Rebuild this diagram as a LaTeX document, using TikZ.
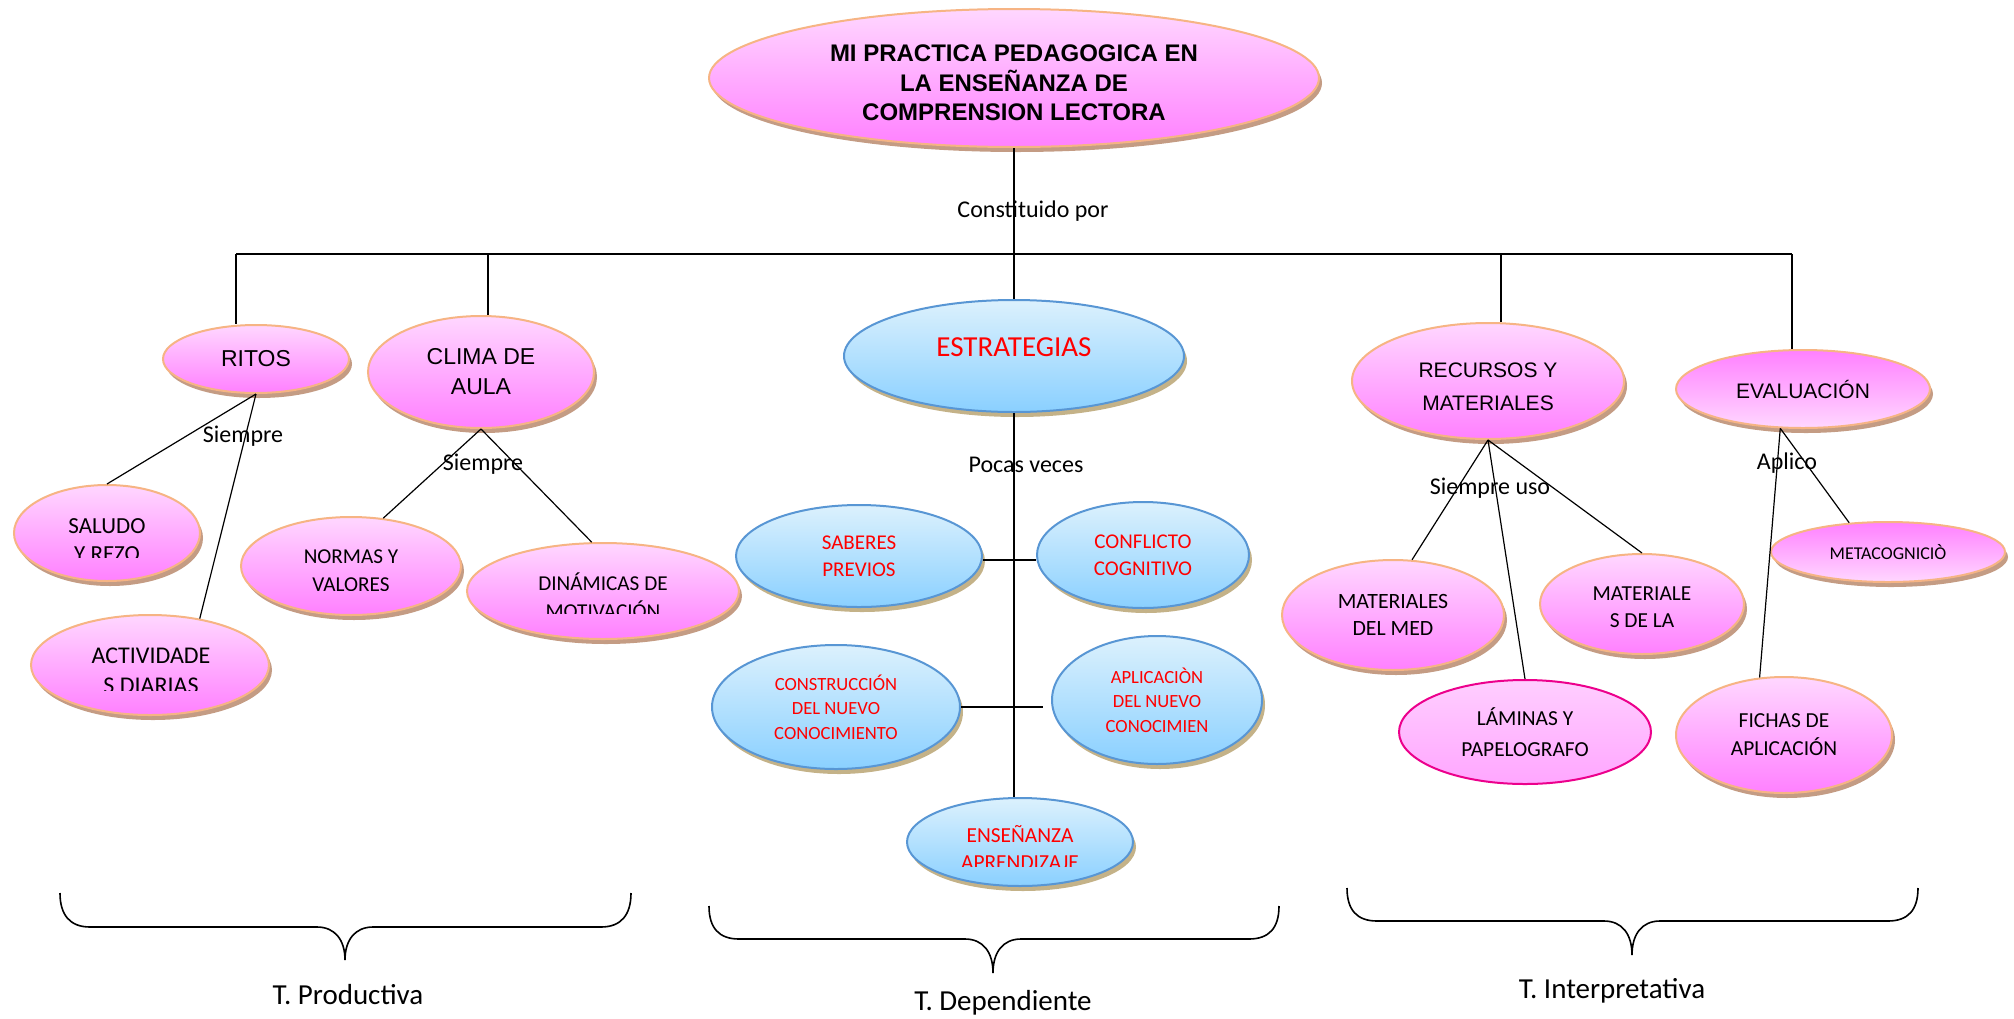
\documentclass[tikz,border=0pt]{standalone}
\usepackage{fontspec}
\setmainfont{Carlito}
\newfontfamily\arialfont{Liberation Sans}
\usetikzlibrary{shapes.geometric, shadows}
\definecolor{pinktop}{RGB}{255,215,255}
\definecolor{pinkbot}{RGB}{255,128,255}
\definecolor{peach}{RGB}{246,180,132}
\definecolor{pinkshade}{RGB}{196,156,132}
\definecolor{bluetop}{RGB}{220,241,253}
\definecolor{bluebot}{RGB}{138,208,255}
\definecolor{bluerim}{RGB}{88,150,212}
\definecolor{blueshade}{RGB}{196,178,136}
\definecolor{lamtop}{RGB}{255,206,255}
\definecolor{lambot}{RGB}{255,166,255}

\begin{document}
\begin{tikzpicture}[x=0.5pt, y=-0.5pt]
\tikzset{
  pinkball/.style={ellipse, draw=peach, line width=1pt, top color=pinktop, bottom color=pinkbot,
    inner sep=0pt, align=center,
    drop shadow={shadow xshift=1.5pt, shadow yshift=-2.5pt, fill=pinkshade, opacity=1}},
  pinkflip/.style={pinkball, top color=pinkbot, bottom color=pinktop},
  blueball/.style={ellipse, draw=bluerim, line width=1pt, top color=bluetop, bottom color=bluebot,
    inner sep=0pt, align=center, text=red,
    drop shadow={shadow xshift=1.5pt, shadow yshift=-2.5pt, fill=blueshade, opacity=1}},
  link/.style={line width=0.6pt},
  tag/.style={font=\fontsize{12}{14}\selectfont},
  bracepen/.style={line width=0.8pt},
  bracetext/.style={font=\fontsize{14.5}{17}\selectfont}
}
\useasboundingbox (0,0) rectangle (2014,1018);

% top of the map
\node[pinkball, minimum width=305pt, minimum height=69pt,
  font=\arialfont\bfseries\fontsize{12}{14.75}\selectfont]
  (title) at (1014,78) {\rule{0pt}{13.6pt}MI PRACTICA PEDAGOGICA EN\\LA ENSEÑANZA DE\\COMPRENSION LECTORA};

\coordinate (b1) at (236,254);
\coordinate (b2) at (488,254);
\coordinate (b4) at (1501,254);
\coordinate (b5) at (1792,254);

\node[pinkball, minimum width=93pt, minimum height=34pt, font=\arialfont\fontsize{11.5}{14}\selectfont] (ritos) at (256,359) {RITOS};
\node[pinkball, minimum width=113pt, minimum height=56pt, font=\arialfont\fontsize{11.5}{15}\selectfont] (clima) at (481,372) {CLIMA DE\\AULA};
\node[blueball, minimum width=170pt, minimum height=56pt, font=\fontsize{14.5}{17}\selectfont, text depth=9pt] (estr) at (1014,356) {ESTRATEGIAS};
\node[pinkball, minimum width=136pt, minimum height=58pt, font=\arialfont\fontsize{10.5}{16.5}\selectfont] (recursos) at (1488,381) {\rule{0pt}{13.5pt}RECURSOS Y\\MATERIALES};
\node[pinkflip, minimum width=127pt, minimum height=39pt, font=\arialfont\fontsize{10.5}{13}\selectfont] (eval) at (1803,389) {EVALUACIÓN};

% ritos y clima de aula
\node[pinkball, minimum width=93pt, minimum height=48pt] (saludo) at (107,533) {};
\node[pinkball, minimum width=119pt, minimum height=50pt] (activ) at (150,665) {};
\node[pinkball, minimum width=110pt, minimum height=49pt] (normas) at (351,566) {};
\node[pinkball, minimum width=136pt, minimum height=48pt] (dinam) at (603,591) {};

\begin{scope}
\clip (0,480) rectangle (220,557);
\node[font=\fontsize{11.5}{14}\selectfont, align=center] (saludo-t) at (107,540) {SALUDO\\Y REZO};
\end{scope}
\begin{scope}
\clip (20,610) rectangle (280,690);
\node[font=\fontsize{12}{14.75}\selectfont, align=center] (activ-t) at (151,671) {ACTIVIDADE\\S DIARIAS};
\end{scope}
\begin{scope}
\clip (230,510) rectangle (470,590);
\node[font=\fontsize{10.6}{14}\selectfont, align=center] (normas-t) at (351,571) {NORMAS Y\\VALORES};
\end{scope}
\begin{scope}
\clip (460,540) rectangle (750,613);
\node[font=\fontsize{10.6}{14}\selectfont, align=center] (dinam-t) at (603,596) {DINÁMICAS DE\\MOTIVACIÓN};
\end{scope}

% estrategias
\node[blueball, minimum width=123pt, minimum height=51pt, font=\fontsize{10.5}{13.5}\selectfont] (saberes) at (859,556) {SABERES\\PREVIOS};
\node[blueball, minimum width=106pt, minimum height=53pt, font=\fontsize{10.5}{13.5}\selectfont] (conflicto) at (1143,555) {CONFLICTO\\COGNITIVO};
\node[blueball, minimum width=124pt, minimum height=62pt, font=\fontsize{9.3}{12.2}\selectfont] (constr) at (836,707) {CONSTRUCCIÓN\\DEL NUEVO\\CONOCIMIENTO};
\node[blueball, minimum width=105pt, minimum height=64pt, font=\fontsize{9.3}{12.2}\selectfont] (aplic) at (1157,700) {APLICACIÒN\\DEL NUEVO\\CONOCIMIEN};
\node[blueball, minimum width=113pt, minimum height=44pt] (ens) at (1020,842) {};
\begin{scope}
\clip (900,795) rectangle (1140,866);
\node[font=\fontsize{10.7}{13.5}\selectfont, align=center, text=red] (ens-t) at (1020,848) {ENSEÑANZA\\APRENDIZAJE};
\end{scope}

% recursos y evaluacion
\node[pinkball, minimum width=111pt, minimum height=55pt, font=\fontsize{10.9}{13.5}\selectfont] (matmed) at (1393,615) {MATERIALES\\DEL MED};
\node[pinkball, minimum width=102pt, minimum height=50pt, font=\fontsize{10.7}{13.7}\selectfont] (matla) at (1642,604) {\rule{0pt}{9.9pt}MATERIALE\\S DE LA};
\node[ellipse, draw=magenta, line width=1pt, top color=lamtop, bottom color=lambot, inner sep=0pt, align=center,
  minimum width=126pt, minimum height=52pt, font=\fontsize{10.7}{15.6}\selectfont] (laminas) at (1525,732) {LÁMINAS Y\\PAPELOGRAFO};
\node[pinkflip, minimum width=117pt, minimum height=30pt, font=\fontsize{9}{11}\selectfont] (meta) at (1888,552) {METACOGNICIÒ};
\node[pinkball, minimum width=108pt, minimum height=58pt, font=\fontsize{10.7}{14}\selectfont] (fichas) at (1784,735) {FICHAS DE\\APLICACIÓN};

% link words
\node[tag] (constituido) at (1033,211) {Constituido por};
\node[tag] (siempre1) at (243,436) {Siempre};
\node[tag] (siempre2) at (483,464) {Siempre};
\node[tag] (pocas) at (1026,465) {Pocas veces};
\node[tag] (siempreuso) at (1490,488) {Siempre uso};
\node[tag] (aplico) at (1787,463) {Aplico};

% lines
\draw[link] (title.south) -- (estr.north);
\draw[link] (b1) -- (b5);
\draw[link] (b1) -- (b1 |- ritos.north);
\draw[link] (b2) -- (b2 |- clima.north);
\draw[link] (b4) -- (b4 |- recursos.north);
\draw[link] (b5) -- (b5 |- eval.north);

\draw[link] (ritos.south) -- (saludo.north);
\draw[link] (ritos.south) -- (activ.43);
\draw[link] (clima.south) -- (normas.56);
\draw[link] (clima.south) -- (dinam.103);

\draw[link] (estr.south) -- (estr.south |- ens.north);
\draw[link] ([yshift=-2pt]saberes.east) -- ([yshift=-2pt]saberes.east -| conflicto.west);
\draw[link] (constr.east) -- ([xshift=-4pt]aplic.west |- constr.east);

\draw[link] (recursos.south) -- (matmed.71);
\draw[link] (recursos.south) -- (laminas.north);
\draw[link] (recursos.south) -- (matla.north);
\draw[link] (eval.240) -- (meta.143);
\draw[link] (eval.240) -- (fichas.113);

% braces
\draw[bracepen] (60,893) .. controls (60,915) and (70,927) .. (90,927) -- (317,927) .. controls (335,927) and (345,940) .. (345,960)
  .. controls (345,940) and (355,927) .. (373,927) -- (601,927) .. controls (621,927) and (631,915) .. (631,893);
\draw[bracepen] (709,906) .. controls (709,928) and (719,939) .. (739,939) -- (965,939) .. controls (983,939) and (993,952) .. (993,973)
  .. controls (993,952) and (1003,939) .. (1021,939) -- (1249,939) .. controls (1269,939) and (1279,928) .. (1279,906);
\draw[bracepen] (1347,888) .. controls (1347,910) and (1357,921) .. (1377,921) -- (1604,921) .. controls (1622,921) and (1632,934) .. (1632,955)
  .. controls (1632,934) and (1642,921) .. (1660,921) -- (1888,921) .. controls (1908,921) and (1918,910) .. (1918,888);

\node[bracetext] (tprod) at (348,995) {T. Productiva};
\node[bracetext] (tdep) at (1003,1003) {T. Dependiente};
\node[bracetext] (tint) at (1612,991) {T. Interpretativa};
\end{tikzpicture}
\end{document}
